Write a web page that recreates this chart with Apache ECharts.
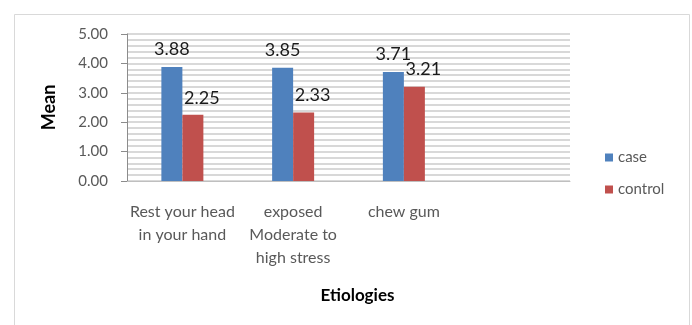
<!DOCTYPE html>
<html>
<head>
<meta charset="utf-8">
<script src="https://cdn.jsdelivr.net/npm/echarts@6/dist/echarts.min.js"></script>
<style>
  html, body { margin: 0; padding: 0; background: #fff; }
  #chart { width: 692px; height: 325px; }
</style>
</head>
<body>
<div id="chart"></div>
<script>
// Etiology categories (last slot left empty, as in the layout)
const categories = ['Rest your head\nin your hand', 'exposed\nModerate to\nhigh stress', 'chew gum', ''];
const caseValues = [3.88, 3.85, 3.71, null];
const controlValues = [2.25, 2.33, 3.21, null];
const yTicks = [0, 1, 2, 3, 4, 5];

const FONT = 'Lato';
const chart = echarts.init(document.getElementById('chart'), null, { renderer: 'canvas' });

const valueLabel = (offset, distance) => ({
  show: true,
  position: 'top',
  distance: distance,
  offset: offset,
  color: '#1a1a1a',
  fontFamily: FONT,
  fontSize: 18,
  formatter: p => p.value == null ? '' : p.value.toFixed(2)
});

chart.setOption({
  animation: false,
  backgroundColor: '#fff',
  textStyle: { fontFamily: FONT },
  graphic: [{
    type: 'rect',
    left: 12, top: 12,
    shape: { width: 675, height: 330 },
    style: { fill: 'none', stroke: '#d9d9d9', lineWidth: 1 },
    silent: true
  }],
  grid: { left: 127, right: 122, top: 34, bottom: 144 },
  legend: {
    orient: 'vertical',
    left: 600, top: 145,
    itemWidth: 8, itemHeight: 8, itemGap: 17,
    icon: 'rect',
    textStyle: { color: '#595959', fontSize: 15, fontFamily: FONT },
    data: ['case', 'control']
  },
  xAxis: {
    type: 'category',
    data: categories,
    name: 'Etiologies',
    nameLocation: 'middle',
    nameGap: 106,
    nameTextStyle: { color: '#000', fontWeight: 'bold', fontSize: 17, fontFamily: FONT, padding: [0, 0, 0, 18] },
    axisLine: { show: true, lineStyle: { color: '#bfbfbf' } },
    axisTick: { show: false },
    axisLabel: { color: '#595959', fontSize: 16, lineHeight: 23, margin: 19, interval: 0, fontFamily: FONT }
  },
  yAxis: {
    type: 'value',
    min: 0, max: 5, interval: 1,
    name: 'Mean',
    nameLocation: 'middle',
    nameGap: 69,
    nameTextStyle: { color: '#000', fontWeight: 'bold', fontSize: 18, fontFamily: FONT },
    axisLine: { show: true, lineStyle: { color: '#8c8c8c' } },
    axisTick: { show: true, length: 6, lineStyle: { color: '#8c8c8c' } },
    axisLabel: {
      color: '#595959', fontSize: 15, margin: 19, fontFamily: FONT,
      formatter: v => yTicks.includes(v) ? v.toFixed(2) : ''
    },
    splitLine: { show: true, lineStyle: { color: '#cccccc', width: 1.5 } },
    minorTick: { show: false, splitNumber: 5 },
    minorSplitLine: { show: true, lineStyle: { color: '#cccccc', width: 1.5 } }
  },
  series: [
    {
      name: 'case', type: 'bar',
      data: caseValues,
      barWidth: 21, barGap: '0%',
      itemStyle: { color: '#4f81bd' },
      label: valueLabel([0, 0], 9)
    },
    {
      name: 'control', type: 'bar',
      data: controlValues,
      barWidth: 21,
      itemStyle: { color: '#c0504d' },
      label: valueLabel([9, 0], 8)
    }
  ]
});
</script>
</body>
</html>
